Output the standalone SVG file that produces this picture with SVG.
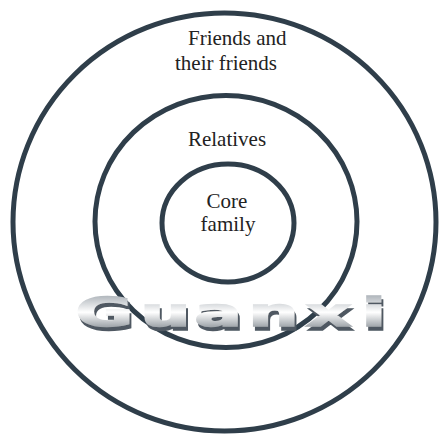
<svg xmlns="http://www.w3.org/2000/svg" width="439" height="434" viewBox="0 0 439 434">
<style>
.ring{fill:none;stroke:#2f3e4a;stroke-width:5}
.lbl{font-family:"Liberation Serif","Times New Roman",serif;font-size:21px;fill:#222}
.gx{font-family:"DejaVu Sans",sans-serif;font-weight:bold;font-size:39px}
</style>
<defs>
<linearGradient id="gg" x1="0" y1="0" x2="0" y2="1">
<stop offset="0" stop-color="#949ca4"/>
<stop offset="0.5" stop-color="#ffffff"/>
<stop offset="1" stop-color="#6a737b"/>
</linearGradient>
<filter id="sh" x="-5%" y="-20%" width="115%" height="150%">
<feOffset in="SourceAlpha" dx="2" dy="4" result="o"/>
<feFlood flood-color="#4f5962"/>
<feComposite in2="o" operator="in" result="s"/>
<feMerge><feMergeNode in="s"/><feMergeNode in="SourceGraphic"/></feMerge>
</filter>
</defs>
<rect width="439" height="434" fill="#fff"/>
<g id="outer"><ellipse class="ring" cx="224.5" cy="222" rx="211.5" ry="209"/>
<text class="lbl" x="188" y="45">Friends and</text>
<text class="lbl" x="175" y="70">their friends</text></g>
<g id="middle"><ellipse class="ring" cx="226" cy="221.5" rx="131" ry="126"/>
<text class="lbl" x="227" y="146" text-anchor="middle">Relatives</text></g>
<g id="inner"><ellipse class="ring" cx="228" cy="223" rx="66" ry="59"/>
<text class="lbl" x="227" y="208" text-anchor="middle">Core</text>
<text class="lbl" x="228" y="231" text-anchor="middle">family</text></g>
<g id="guanxi" filter="url(#sh)">
<text class="gx" transform="scale(1.8 1)" fill="url(#gg)" stroke="url(#gg)" stroke-width="1.6" x="42 78 108 138 170 201" y="326">Guanxi</text>
</g>
<g id="connectors"/>
</svg>
